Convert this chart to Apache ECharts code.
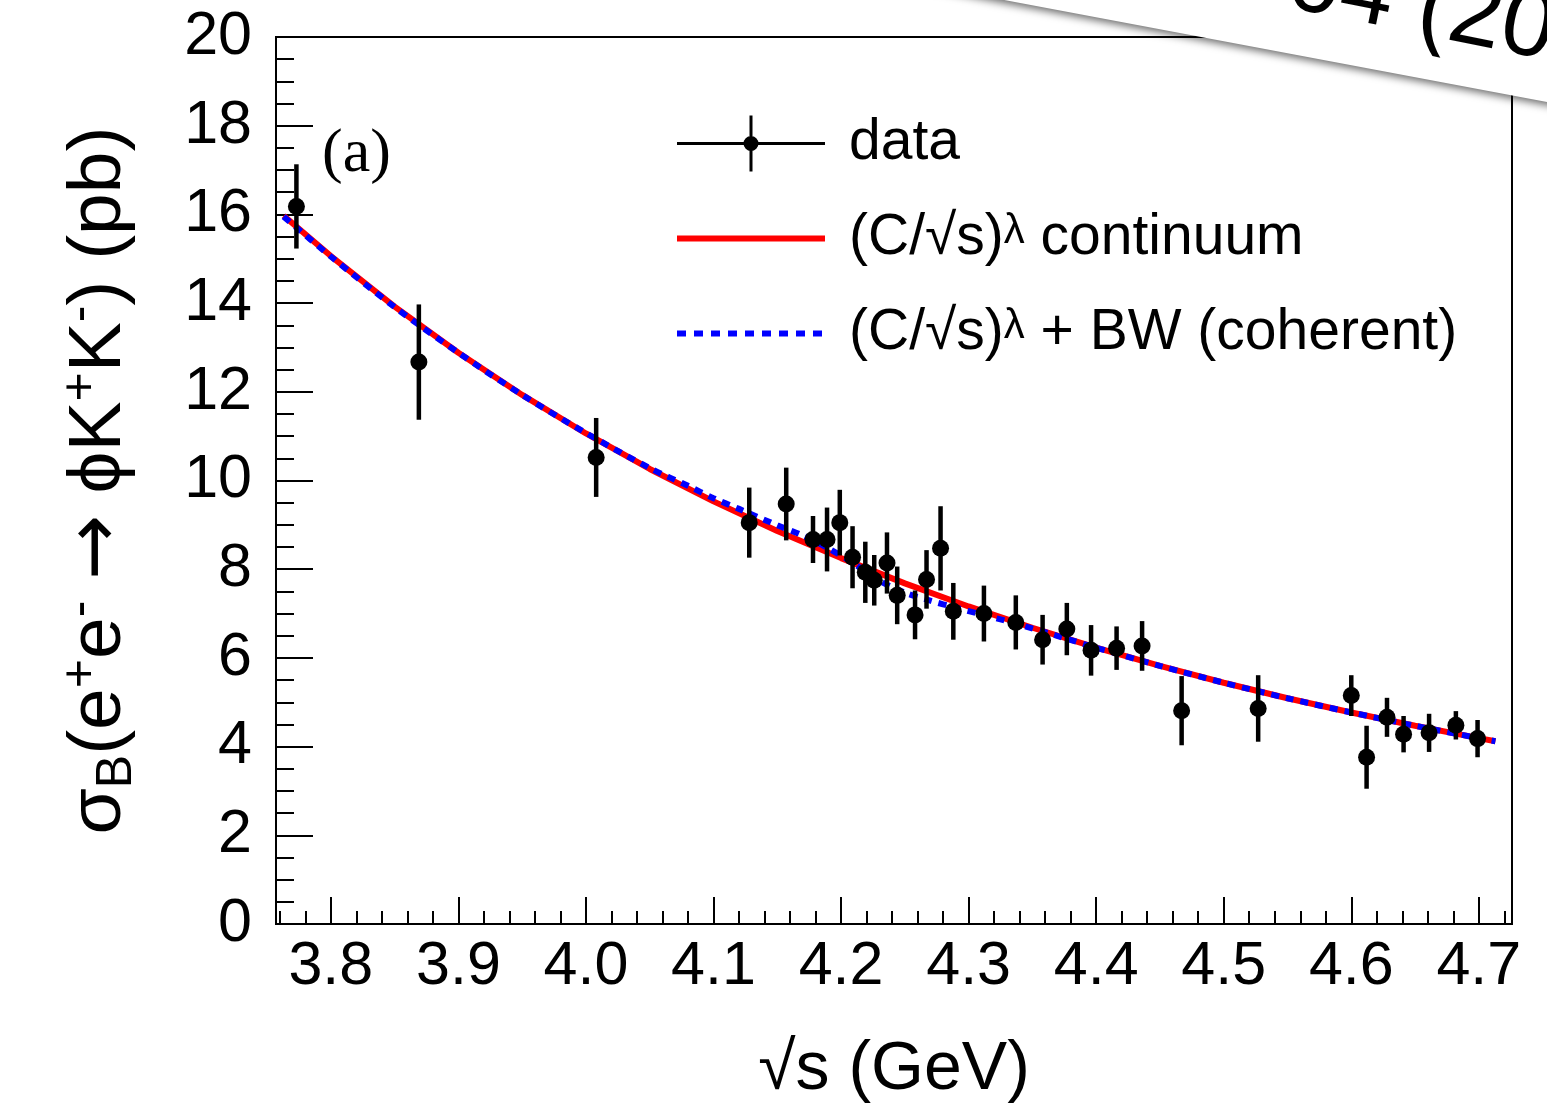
<!DOCTYPE html>
<html><head><meta charset="utf-8">
<script src="https://cdn.jsdelivr.net/npm/echarts@6/dist/echarts.min.js"></script>
<style>html,body{margin:0;padding:0;background:#fff}#c{width:1547px;height:1111px}</style>
</head><body><div id="c"></div>
<script>
// ---- data ----
const energy = [3.773, 3.869, 4.008, 4.128, 4.157, 4.178, 4.189, 4.199, 4.209, 4.219, 4.226, 4.236, 4.244, 4.258, 4.267, 4.278, 4.288, 4.312, 4.337, 4.358, 4.377, 4.396, 4.416, 4.436, 4.467, 4.527, 4.600, 4.612, 4.628, 4.641, 4.661, 4.682, 4.699];
const sigma  = [16.18, 12.67, 10.52, 9.05, 9.47, 8.67, 8.67, 9.05, 8.27, 7.93, 7.75, 8.14, 7.41, 6.97, 7.77, 8.47, 7.05, 7.00, 6.80, 6.41, 6.65, 6.17, 6.22, 6.27, 4.81, 4.86, 5.15, 3.76, 4.66, 4.28, 4.31, 4.48, 4.18];
const sigmaErr = [0.95, 1.30, 0.89, 0.79, 0.82, 0.53, 0.72, 0.74, 0.70, 0.69, 0.57, 0.69, 0.65, 0.55, 0.66, 0.95, 0.64, 0.63, 0.61, 0.56, 0.59, 0.57, 0.49, 0.56, 0.78, 0.75, 0.46, 0.71, 0.44, 0.41, 0.43, 0.32, 0.42];

const contX = [3.763, 3.80, 3.85, 3.90, 3.95, 4.00, 4.05, 4.10, 4.15, 4.20, 4.25, 4.30, 4.35, 4.40, 4.45, 4.50, 4.55, 4.60, 4.65, 4.70, 4.713];
const contY = [15.97, 15.06, 13.92, 12.88, 11.93, 11.06, 10.26, 9.53, 8.86, 8.25, 7.68, 7.16, 6.68, 6.23, 5.82, 5.44, 5.09, 4.77, 4.47, 4.19, 4.12];

const cohX = [3.763, 3.80, 3.85, 3.90, 3.95, 4.00, 4.05, 4.08, 4.10, 4.12, 4.15, 4.17, 4.19, 4.21, 4.23, 4.25, 4.27, 4.29, 4.31, 4.34, 4.40, 4.45, 4.50, 4.55, 4.60, 4.65, 4.70, 4.713];
const cohY = [15.95, 15.05, 13.91, 12.88, 11.93, 11.07, 10.28, 9.88, 9.60, 9.36, 8.99, 8.76, 8.47, 8.13, 7.74, 7.47, 7.29, 7.13, 6.98, 6.75, 6.23, 5.82, 5.44, 5.09, 4.77, 4.47, 4.19, 4.12];

const xTickLabels = [3.8, 3.9, 4.0, 4.1, 4.2, 4.3, 4.4, 4.5, 4.6, 4.7];
const xMinorTicks = [];
for (let k = 188; k <= 236; k++) xMinorTicks.push(Math.round(k * 2) / 100);

const legendNames = {
  data: '{n|data}',
  cont: '{n|(C/√s)}{sup|λ}{n| continuum}',
  coh: '{n|(C/√s)}{sup|λ}{n| + BW (coherent)}'
};

// ---- chart ----
const FONT = '"Liberation Sans", Arial, Helvetica, sans-serif';
const chart = echarts.init(document.getElementById('c'), null, {renderer: 'canvas'});
const errData = energy.map((x, i) => [x, sigma[i] - sigmaErr[i], sigma[i] + sigmaErr[i]]);

// legend icons (148 x 56 box)
const BOX = 'M0,0z M148,56z ';
const dataIcon = 'path://' + BOX + 'M0,26.5h148v3h-148z M72.5,0h3v56h-3z M66.5,28a7.5,7.5 0 1,1 15,0a7.5,7.5 0 1,1 -15,0z';
const contIcon = 'path://' + BOX + 'M0,25h148v6h-148z';
let dashes = '';
for (let i = 0; i < 9; i++) dashes += 'M' + (i * 17) + ',25h9v6h-9z ';
const cohIcon = 'path://' + BOX + dashes;

const option = {
  animation: false,
  backgroundColor: '#fff',
  grid: {left: 276, right: 35, top: 37, bottom: 187, show: true, borderColor: '#000', borderWidth: 2, backgroundColor: 'transparent'},
  xAxis: [{
    type: 'value', min: 3.757, max: 4.726,
    axisLine: {lineStyle: {color: '#000', width: 2}},
    splitLine: {show: false},
    axisTick: {inside: true, length: 27, customValues: xTickLabels, lineStyle: {color: '#000', width: 2}},
    axisLabel: {customValues: xTickLabels, formatter: v => v.toFixed(1), fontSize: 61, fontFamily: FONT, color: '#000', margin: 13},
    name: '√s (GeV)', nameLocation: 'middle', nameGap: 112,
    nameTextStyle: {fontSize: 68, fontFamily: FONT, color: '#000'}
  }, {
    type: 'value', min: 3.757, max: 4.726, position: 'bottom',
    axisLine: {show: false}, splitLine: {show: false}, axisLabel: {show: false},
    axisTick: {inside: true, length: 13, customValues: xMinorTicks, lineStyle: {color: '#000', width: 2}}
  }],
  yAxis: {
    type: 'value', min: 0, max: 20, interval: 2,
    axisLine: {show: true, lineStyle: {color: '#000', width: 2}},
    splitLine: {show: false},
    axisTick: {show: true, inside: true, length: 37, lineStyle: {color: '#000', width: 2}},
    minorTick: {show: true, splitNumber: 4, length: 18, lineStyle: {color: '#000', width: 2}},
    axisLabel: {fontSize: 61, fontFamily: FONT, color: '#000', margin: 24},
    name: '{t|σ}{sub|B}{t|(e}{sup|+}{t|e}{sup|-}{t| }{ar|→}{t| ϕK}{sup|+}{t|K}{sup|-}{t|) (pb)}',
    nameLocation: 'middle', nameGap: 134,
    nameTextStyle: {
      color: '#000', fontFamily: FONT, fontSize: 75,
      rich: {
        t: {fontSize: 75, fontFamily: FONT, color: '#000', lineHeight: 86},
        ar: {fontSize: 78, fontFamily: '"DejaVu Sans", sans-serif', color: '#000', lineHeight: 86},
        sub: {fontSize: 50, fontFamily: FONT, color: '#000', lineHeight: 50, verticalAlign: 'bottom'},
        sup: {fontSize: 50, fontFamily: FONT, color: '#000', lineHeight: 50, verticalAlign: 'top'}
      }
    }
  },
  legend: {
    orient: 'vertical', left: 672, top: 110,
    itemWidth: 148, itemHeight: 56, itemGap: 38,
    selectedMode: false,
    data: [{name: 'data', icon: dataIcon}, {name: 'cont', icon: contIcon}, {name: 'coh', icon: cohIcon}],
    formatter: name => legendNames[name],
    textStyle: {
      fontSize: 57, fontFamily: FONT, color: '#000', padding: [0, 0, 0, 19],
      rich: {
        n: {fontSize: 57, fontFamily: FONT, color: '#000', lineHeight: 56},
        sup: {fontSize: 42, fontFamily: FONT, color: '#000', lineHeight: 26, verticalAlign: 'top'}
      }
    }
  },
  series: [
    {
      name: 'cont', type: 'line', xAxisIndex: 0, symbol: 'none', showSymbol: false, z: 2,
      data: contX.map((x, i) => [x, contY[i]]),
      itemStyle: {color: '#ff0000'},
      lineStyle: {color: '#ff0000', width: 6}
    },
    {
      name: 'coh', type: 'line', xAxisIndex: 0, symbol: 'none', showSymbol: false, z: 3, smooth: 0.3,
      data: cohX.map((x, i) => [x, cohY[i]]),
      itemStyle: {color: '#0000ff'},
      lineStyle: {color: '#0000ff', width: 6, type: [8, 7]}
    },
    {
      name: 'errbar', type: 'custom', xAxisIndex: 0, z: 4,
      data: errData,
      renderItem: function (params, api) {
        const p1 = api.coord([api.value(0), api.value(1)]);
        const p2 = api.coord([api.value(0), api.value(2)]);
        return {type: 'line', shape: {x1: p1[0], y1: p1[1], x2: p2[0], y2: p2[1]}, style: {stroke: '#000', lineWidth: 4.5}};
      }
    },
    {
      name: 'data', type: 'scatter', xAxisIndex: 0, z: 5, symbol: 'circle', symbolSize: 17,
      data: energy.map((x, i) => [x, sigma[i]]),
      itemStyle: {color: '#000', opacity: 1}
    }
  ],
  graphic: [
    {type: 'text', left: 322, top: 124, z: 10,
      style: {text: '(a)', font: '62px "Liberation Serif", "Times New Roman", serif', fill: '#000'}},
    {type: 'polygon', z: 100,
      shape: {points: [[900, -19.6], [1600, -19.6], [1600, 112]]},
      style: {fill: '#fff', shadowBlur: 8, shadowColor: 'rgba(0,0,0,0.6)', shadowOffsetY: 3}},
    {type: 'text', z: 101, x: 1280, y: 27, rotation: -0.2,
      style: {text: '04 (2022)', font: '95px "Liberation Sans", Arial, sans-serif', fill: '#000', verticalAlign: 'bottom', align: 'left'}}
  ]
};
chart.setOption(option);
</script>
</body></html>
